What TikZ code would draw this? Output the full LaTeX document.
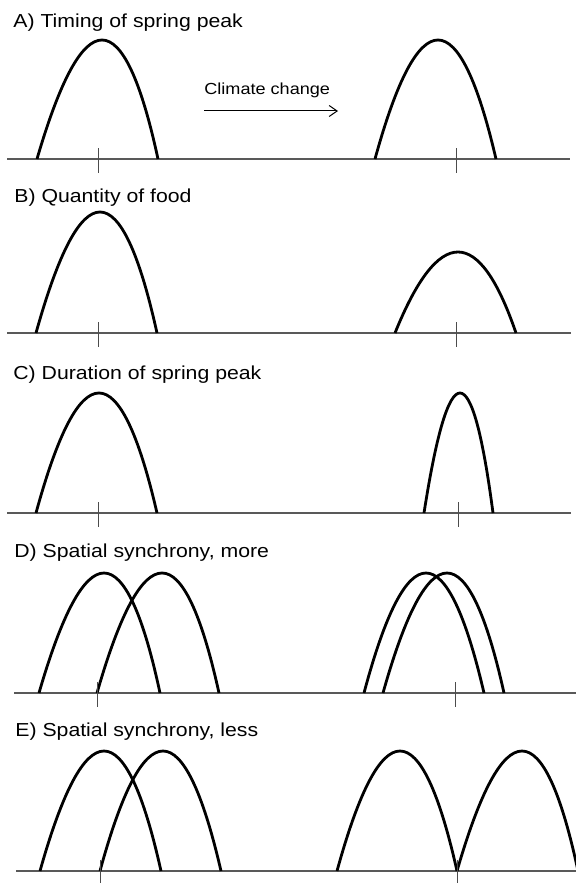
\documentclass[tikz,border=0pt]{standalone}
\usepackage{fontspec}
\setmainfont{Liberation Sans}
\newfontfamily\panelfont[FakeStretch=1.13]{Liberation Sans}
\usetikzlibrary{arrows.meta}

\tikzset{
  peakline/.style={line width=1.4pt, line join=round},
  axisline/.style={line width=0.6pt, draw=black!65},
  tickline/.style={line width=0.5pt, draw=black!70},
  paneltitle/.style={anchor=base west, inner sep=0pt, font=\panelfont\fontsize{9.4}{11}\selectfont},
}

% parabola: left end, right end, peak x, peak y, baseline y
\newcommand{\peakcurve}[5]{%
  \draw[peakline] (#1,#5) .. controls ({#1+2/3*((4*#3-#1-#2)/2-#1)},{#5+4/3*(#4-#5)})
    and ({#2+2/3*((4*#3-#1-#2)/2-#2)},{#5+4/3*(#4-#5)}) .. (#2,#5);}
\newcommand{\peaktick}[2]{\draw[tickline] (#1,#2-11) -- (#1,#2+14);}

\begin{document}
\begin{tikzpicture}[x=0.5pt, y=-0.5pt, >={Straight Barb[length=4pt,width=5.5pt]}]
    \useasboundingbox (0,0) rectangle (576,883);

    % A
    \node[paneltitle] (titleA) at (13,28) {A) Timing of spring peak};
    \draw[axisline] (7,159) -- (570,159);
    \peakcurve{37}{158}{102}{40}{159}
    \peakcurve{375}{496}{438}{40}{159}
    \peaktick{98}{159}
    \peaktick{456}{159}
    \node[anchor=base west, inner sep=0pt, font=\panelfont\fontsize{8}{10}\selectfont] (climate) at (204,95) {Climate change};
    \coordinate (ccstart) at (204,111);
    \coordinate (ccend) at (338,111);
    \draw[->, line width=0.5pt] (ccstart) -- (ccend);

    % B
    \node[paneltitle] (titleB) at (14,202) {B) Quantity of food};
    \draw[axisline] (7,333) -- (571,333);
    \peakcurve{36}{157}{100}{212}{333}
    \peakcurve{395}{516}{458}{252}{333}
    \peaktick{98}{333}
    \peaktick{456}{333}

    % C
    \node[paneltitle] (titleC) at (13,379) {C) Duration of spring peak};
    \draw[axisline] (7,513) -- (571,513);
    \peakcurve{36}{157}{99}{393}{513}
    \peakcurve{424}{493}{460}{393}{513}
    \peaktick{98}{513}
    \peaktick{458}{513}

    % D
    \node[paneltitle] (titleD) at (14,557) {D) Spatial synchrony, more};
    \draw[axisline] (14,693) -- (576,693);
    \peakcurve{39}{160}{104}{573}{693}
    \peakcurve{97}{219}{162}{573}{693}
    \peakcurve{364}{484}{426}{573}{693}
    \peakcurve{383}{504}{447}{573}{693}
    \peaktick{97}{693}
    \peaktick{455}{693}

    % E
    \node[paneltitle] (titleE) at (15,736) {E) Spatial synchrony, less};
    \draw[axisline] (16,871) -- (576,871);
    \peakcurve{40}{161}{104}{751}{871}
    \peakcurve{100}{221}{163}{751}{871}
    \peakcurve{337}{457}{400}{751}{871}
    \peakcurve{457}{578}{522}{751}{871}
    \peaktick{100}{871}
    \peaktick{457}{871}
\end{tikzpicture}
\end{document}
